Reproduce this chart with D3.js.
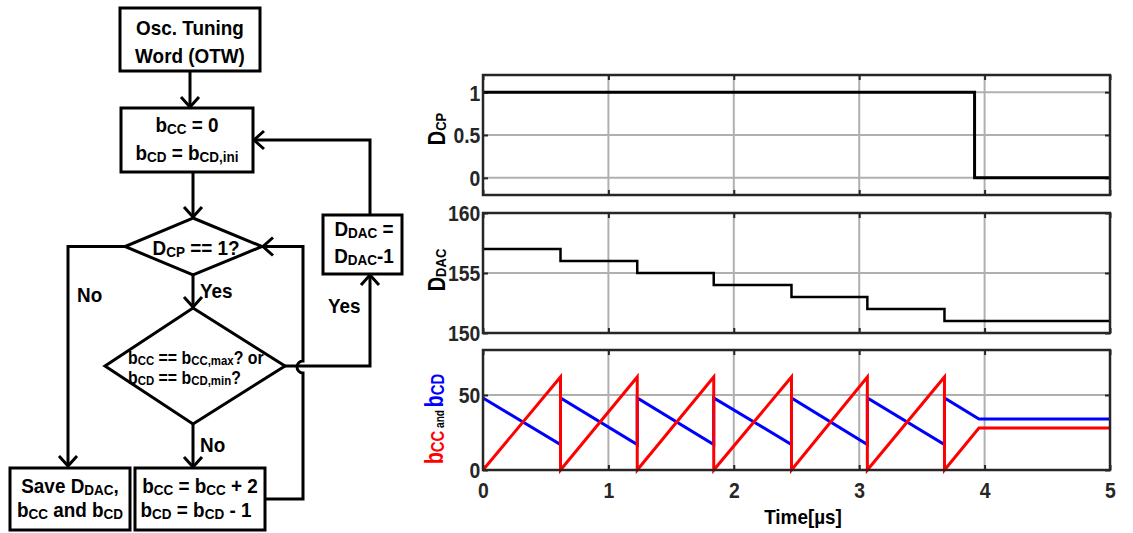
<!DOCTYPE html>
<html>
<head>
<meta charset="utf-8">
<script src="https://cdn.jsdelivr.net/npm/d3@7.9.0/dist/d3.min.js"></script>
<style>
  body { margin: 0; background: #fff; }
  svg { display: block; }
</style>
</head>
<body>
<svg width="1133" height="533"></svg>
<script>
// ---- data ----
const timeTicks = [0, 1, 2, 3, 4, 5];

const dcpTicks = [0, 0.5, 1];
const dcpTime = [0, 3.92, 5];
const dcpValue = [1, 0, 0];

const dacTicks = [150, 155, 160];
const dacTime = [0, 0.618, 1.23, 1.84, 2.46, 3.065, 3.68, 5];
const dacValue = [157, 156, 155, 154, 153, 152, 151, 151];

const bTicks = [0, 50];
const bccTime = [0, 0.618, 0.618, 1.23, 1.23, 1.84, 1.84, 2.46, 2.46, 3.065, 3.065, 3.68, 3.68, 3.955, 5];
const bccValue = [0, 62, 0, 62, 0, 62, 0, 62, 0, 62, 0, 62, 0, 28, 28];
const bcdTime = [0, 0.618, 0.618, 1.23, 1.23, 1.84, 1.84, 2.46, 2.46, 3.065, 3.065, 3.68, 3.68, 3.955, 5];
const bcdValue = [48, 17, 48, 17, 48, 17, 48, 17, 48, 17, 48, 17, 48, 34, 34];

const font = "'Liberation Sans', Arial, sans-serif";
const svg = d3.select("svg");

// text with _{sub} markup
function parse(str) {
  const parts = [];
  str.split(/(_\{[^}]*\})/).forEach(s => {
    if (!s) return;
    if (s.startsWith("_{")) parts.push({t: s.slice(2, -1), sub: true});
    else parts.push({t: s, sub: false});
  });
  return parts;
}

// narrow bold text, squeezed horizontally like the original figure
function rich(parent, x, y, parts, o) {
  const t = parent.append("text")
    .attr("transform", `translate(${x},${y}) ${o.rot || ""} scale(${o.sx || 0.87},1)`)
    .attr("font-family", font)
    .attr("font-weight", "bold")
    .attr("font-size", o.size)
    .attr("text-anchor", o.anchor || "middle")
    .attr("fill", "#000");
  let shift = 0;
  parts.forEach(p => {
    const s = t.append("tspan").text(p.t);
    const want = p.sub ? (o.subShift || 2) : 0;
    if (want !== shift) { s.attr("dy", want - shift); shift = want; }
    s.attr("font-size", p.size || (p.sub ? o.subSize : o.size));
    if (p.c) s.attr("fill", p.c);
  });
  return t;
}

// ---- flowchart ----
const fc = svg.append("g")
  .attr("fill", "none").attr("stroke", "#000").attr("stroke-width", 3);

function box(x0, y0, x1, y1) {
  fc.append("rect").attr("x", x0).attr("y", y0).attr("width", x1 - x0).attr("height", y1 - y0);
}
function diamond(cx, top, bottom, left, right) {
  const cy = (top + bottom) / 2;
  fc.append("path").attr("d", `M${cx},${top}L${right},${cy}L${cx},${bottom}L${left},${cy}Z`);
}
function poly(pts) {
  fc.append("path").attr("d", d3.line()(pts));
}
function head(x, y, dir) {
  const a = 9, l = 10;
  const pts = {
    down: [[x - a, y - l], [x, y], [x + a, y - l]],
    up: [[x - a, y + l], [x, y], [x + a, y + l]],
    left: [[x + l, y - a], [x, y], [x + l, y + a]]
  }[dir];
  poly(pts);
}

box(120, 8, 260, 71);
box(121, 108, 253, 172);
box(323, 215, 402, 274);
box(135, 468, 265, 530);
box(10, 468, 130, 530);
diamond(193, 218, 275, 125, 262);
diamond(193, 308, 424, 105, 285);

poly([[190, 71], [190, 107]]); head(190, 107, "down");
poly([[193, 172], [193, 217]]); head(193, 217, "down");
poly([[125, 246.5], [68, 246.5], [68, 466]]); head(68, 466, "down");
poly([[193, 275], [193, 307]]); head(193, 307, "down");
poly([[193, 424], [193, 467]]); head(193, 467, "down");
fc.append("path").attr("d", "M265,499L303,499L303,373A6,6 0 0,1 303,361L303,246.5L263,246.5");
head(263, 246.5, "left");
poly([[285, 366], [370, 366], [370, 275]]); head(370, 275, "up");
poly([[370, 215], [370, 140], [254, 140]]); head(254, 140, "left");

const fs = {size: 21, subSize: 15, subShift: 1.5, sx: 0.9};
const fsLeft = {...fs, anchor: "start"};
const fsSmall = {size: 18, subSize: 13, subShift: 1, anchor: "start", sx: 0.88};
rich(svg, 190, 35, parse("Osc. Tuning"), fs);
rich(svg, 190, 63, parse("Word (OTW)"), fs);
rich(svg, 187, 132, parse("b_{CC} = 0"), fs);
rich(svg, 187, 160, parse("b_{CD} = b_{CD,ini}"), fs);
rich(svg, 196, 255, parse("D_{CP} == 1?"), fs);
rich(svg, 128, 364, parse("b_{CC} == b_{CC,max}? or"), fsSmall);
rich(svg, 128, 384, parse("b_{CD} == b_{CD,min}?"), fsSmall);
rich(svg, 364, 236, parse("D_{DAC} ="), fs);
rich(svg, 364, 263, parse("D_{DAC}-1"), fs);
rich(svg, 200, 493, parse("b_{CC} = b_{CC} + 2"), fs);
rich(svg, 196, 517, parse("b_{CD} = b_{CD} - 1"), fs);
rich(svg, 70, 493, parse("Save D_{DAC},"), fs);
rich(svg, 70, 517, parse("b_{CC} and b_{CD}"), fs);
rich(svg, 77, 302, parse("No"), fsLeft);
rich(svg, 200, 298, parse("Yes"), fsLeft);
rich(svg, 328, 313, parse("Yes"), fsLeft);
rich(svg, 200, 452, parse("No"), fsLeft);

// ---- plots ----
const x = d3.scaleLinear().domain([0, 5]).range([483, 1110]);
const gridColor = "#b0b0b0", frameColor = "#262626";

function panel(top, bottom, domain, ticks, showX) {
  const y = d3.scaleLinear().domain(domain).range([bottom, top]);
  const g = svg.append("g");
  // grid
  g.selectAll(".gx").data(timeTicks.filter(t => t > 0 && t < 5)).join("line")
    .attr("x1", d => x(d)).attr("x2", d => x(d))
    .attr("y1", top).attr("y2", bottom)
    .attr("stroke", gridColor).attr("stroke-width", 2);
  g.selectAll(".gy").data(ticks.filter(t => t > domain[0] && t < domain[1])).join("line")
    .attr("x1", x(0)).attr("x2", x(5))
    .attr("y1", d => y(d)).attr("y2", d => y(d))
    .attr("stroke", gridColor).attr("stroke-width", 2);
  // axes with inward ticks
  const axL = g.append("g").attr("transform", `translate(${x(0)},0)`)
    .call(d3.axisLeft(y).tickValues(ticks).tickSize(-5).tickPadding(3).tickFormat(d => String(d)));
  const axR = g.append("g").attr("transform", `translate(${x(5)},0)`)
    .call(d3.axisRight(y).tickValues(ticks).tickSize(-5).tickFormat(""));
  const axT = g.append("g").attr("transform", `translate(0,${top})`)
    .call(d3.axisTop(x).tickValues(timeTicks).tickSize(-5).tickFormat(""));
  const axB = g.append("g").attr("transform", `translate(0,${bottom})`)
    .call(d3.axisBottom(x).tickValues(timeTicks).tickSize(-5).tickPadding(12)
      .tickFormat(showX ? (d => String(d)) : ""));
  [axL, axR, axT, axB].forEach(a => {
    a.select(".domain").remove();
    a.selectAll(".tick line").attr("stroke", frameColor).attr("stroke-width", 2);
    a.selectAll("text").attr("font-family", font).attr("font-weight", "bold")
      .attr("font-size", 22).attr("fill", "#262626")
      .attr("transform", "scale(0.88,1)");
  });
  axL.selectAll("text").attr("dy", "0.36em");
  g.append("rect").attr("x", x(0)).attr("y", top)
    .attr("width", x(5) - x(0)).attr("height", bottom - top)
    .attr("fill", "none").attr("stroke", frameColor).attr("stroke-width", 2.5);
  return {g, y};
}

const p1 = panel(75, 195, [-0.2, 1.2], dcpTicks, false);
const p2 = panel(213, 333, [150, 160], dacTicks, false);
const p3 = panel(350, 470, [0, 80], bTicks, true);

function series(p, ts, vs, color, width, curve) {
  const pts = ts.map((t, i) => [t, vs[i]]);
  p.g.insert("path", "rect")
    .datum(pts)
    .attr("fill", "none").attr("stroke", color).attr("stroke-width", width)
    .attr("stroke-linejoin", "miter")
    .attr("d", d3.line().x(d => x(d[0])).y(d => p.y(d[1])).curve(curve || d3.curveLinear));
}

series(p1, dcpTime, dcpValue, "#000", 3, d3.curveStepAfter);
series(p2, dacTime, dacValue, "#000", 2.5, d3.curveStepAfter);
series(p3, bcdTime, bcdValue, "#0000ff", 3);
series(p3, bccTime, bccValue, "#ff0000", 3);

// axis titles
rich(svg, 445, 129, parse("D_{CP}"), {size: 23, subSize: 15, subShift: 1, rot: "rotate(-90)"});
rich(svg, 445, 270, parse("D_{DAC}"), {size: 23, subSize: 15, subShift: 1, rot: "rotate(-90)"});
rich(svg, 443, 419, [
  {t: "b", c: "#ff0000"}, {t: "CC", sub: true, c: "#ff0000", size: 19},
  {t: " and ", sub: true, size: 13}, {t: "b", c: "#0000ff"}, {t: "CD", sub: true, c: "#0000ff", size: 19}
], {size: 25, subSize: 19, subShift: 0.5, rot: "rotate(-90)", sx: 0.78});

rich(svg, 803, 524, [{t: "Time[\u00b5s]"}], {size: 21, subSize: 14, sx: 0.9});
</script>
</body>
</html>
